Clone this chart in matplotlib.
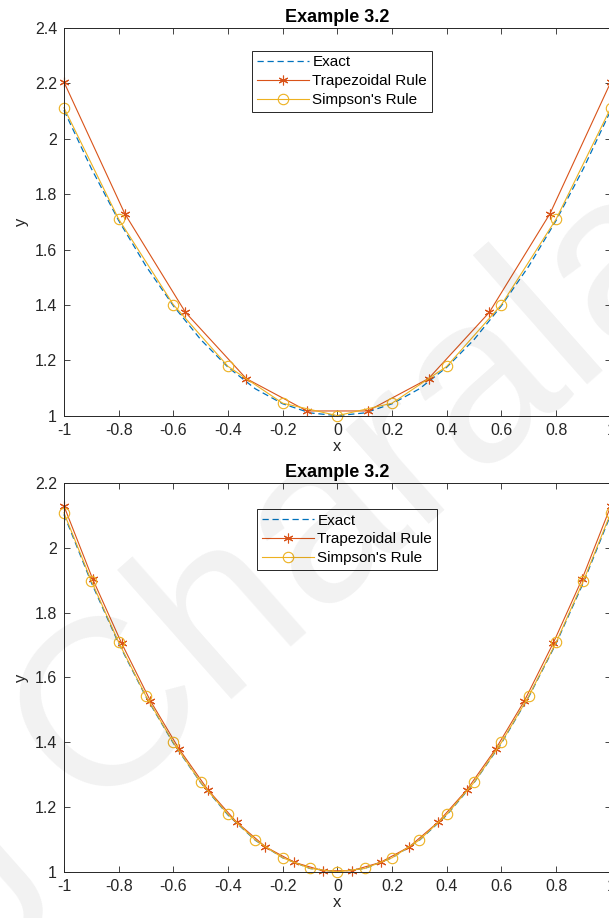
import numpy as np
import matplotlib
matplotlib.use("Agg")
import matplotlib.pyplot as plt
from matplotlib.ticker import FuncFormatter

plt.rcParams['font.family'] = ['Liberation Sans', 'DejaVu Sans']
plt.rcParams['axes.unicode_minus'] = False

# values
x_exact = np.linspace(-1, 1, 21)
y_exact = [2.103, 1.893, 1.705, 1.540, 1.397, 1.275, 1.175, 1.097, 1.043, 1.010, 1.000,
           1.010, 1.043, 1.097, 1.175, 1.275, 1.397, 1.540, 1.705, 1.893, 2.103]

# top panel: coarse grids
x_trap1 = np.linspace(-1, 1, 10)
y_trap1 = [2.205, 1.730, 1.373, 1.134, 1.017, 1.017, 1.134, 1.373, 1.730, 2.205]
x_simp1 = np.linspace(-1, 1, 11)
y_simp1 = [2.112, 1.710, 1.401, 1.178, 1.045, 1.000, 1.045, 1.178, 1.401, 1.710, 2.112]

# bottom panel: finer grids
x_trap2 = np.linspace(-1, 1, 20)
y_trap2 = [2.129, 1.903, 1.706, 1.528, 1.379, 1.253, 1.153, 1.077, 1.029, 1.003,
           1.003, 1.029, 1.077, 1.153, 1.253, 1.379, 1.528, 1.706, 1.903, 2.129]
x_simp2 = np.linspace(-1, 1, 21)
y_simp2 = [2.108, 1.898, 1.708, 1.542, 1.399, 1.276, 1.177, 1.098, 1.043, 1.010, 1.000,
           1.010, 1.043, 1.098, 1.177, 1.276, 1.399, 1.542, 1.708, 1.898, 2.108]

blue = '#0072BD'
orange = '#D95319'
yellow = '#EDB120'
ast = (6, 2, 0)

fig = plt.figure(figsize=(6.09, 9.18), dpi=100)
ax1 = fig.add_axes([0.105, 0.5472, 0.898, 0.4223])
ax2 = fig.add_axes([0.105, 0.0504, 0.898, 0.4235])


def style(ax, ylim, yticks, legend_xy):
    ax.set_xlim(-1, 1)
    ax.set_ylim(*ylim)
    ax.set_xticks(np.arange(-1, 1.01, 0.2))
    ax.set_yticks(yticks)
    fmt = FuncFormatter(lambda v, p: '%g' % (round(v, 2) + 0.0))
    ax.xaxis.set_major_formatter(fmt)
    ax.yaxis.set_major_formatter(fmt)
    ax.tick_params(direction='in', length=4, width=0.6, top=True, right=True,
                   labelsize=11.5, colors='#262626', pad=5)
    for s in ax.spines.values():
        s.set_color('#262626')
        s.set_linewidth(0.7)
    ax.set_title('Example 3.2', fontsize=13, fontweight='bold', pad=4)
    ax.set_xlabel('x', fontsize=12, color='#262626', labelpad=1)
    ax.set_ylabel('y', fontsize=12, color='#262626', labelpad=4)
    leg = ax.legend(loc='upper left', bbox_to_anchor=legend_xy, fontsize=11,
                    fancybox=False, framealpha=1, edgecolor='#262626',
                    handlelength=3.4, handletextpad=0.25, labelspacing=0.32,
                    borderpad=0.3, borderaxespad=0)
    leg.get_frame().set_linewidth(0.7)


ax1.plot(x_exact, y_exact, '--', color=blue, lw=0.9, dashes=(5, 3), label='Exact')
ax1.plot(x_trap1, y_trap1, '-', color=orange, lw=0.8, marker=ast, ms=7, mew=0.8,
         label='Trapezoidal Rule')
ax1.plot(x_simp1, y_simp1, '-', color=yellow, lw=0.8, marker='o', ms=7.5, mfc='none',
         mew=0.8, label="Simpson's Rule")
style(ax1, (1, 2.4), np.arange(1, 2.41, 0.2), (0.344, 0.941))

ax2.plot(x_exact, y_exact, '--', color=blue, lw=0.9, dashes=(5, 3), label='Exact')
ax2.plot(x_trap2, y_trap2, '-', color=orange, lw=0.8, marker=ast, ms=7, mew=0.8,
         label='Trapezoidal Rule')
ax2.plot(x_simp2, y_simp2, '-', color=yellow, lw=0.8, marker='o', ms=7.5, mfc='none',
         mew=0.8, label="Simpson's Rule")
style(ax2, (1, 2.2), np.arange(1, 2.21, 0.2), (0.353, 0.933))

for ax in (ax1, ax2):
    for ln in ax.lines:
        ln.set_clip_on(False)

# faint watermark across the page
fig.text(0.594, 0.454, 'g Charalam', fontsize=171, color='black', alpha=0.055,
         rotation=41.5, ha='center', va='center', zorder=10)

fig.savefig('out.png', dpi=100)
